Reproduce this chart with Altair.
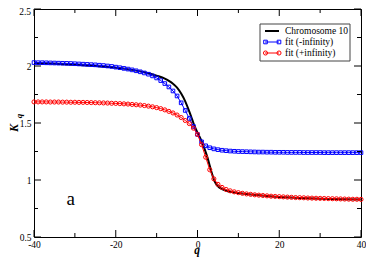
import altair as alt
import pandas as pd

# ---------------- data ----------------
SERIES = ["Chromosome 10", "fit (-infinity)", "fit (+infinity)"]

Q_BLACK = [-40, -35, -30, -25, -20, -16, -13, -10, -8, -7,
           -6, -5, -4, -3, -2, -1.5, -1, -0.5, 0, 0.5,
           1, 1.5, 2, 2.5, 3, 3.5, 4, 4.5, 5, 6,
           7, 8, 10, 12, 15, 20, 25, 30, 35, 40]
K_BLACK = [2.025, 2.020, 2.012, 2.000, 1.985, 1.966, 1.945, 1.915, 1.890, 1.870,
           1.845, 1.810, 1.758, 1.690, 1.600, 1.550, 1.500, 1.455, 1.415, 1.380,
           1.340, 1.295, 1.245, 1.190, 1.125, 1.060, 1.005, 0.968, 0.945, 0.920,
           0.906, 0.897, 0.886, 0.877, 0.866, 0.850, 0.842, 0.836, 0.831, 0.828]

Q_FIT = list(range(-40, 41))
K_BLUE = [2.030, 2.029, 2.029, 2.028, 2.027, 2.026, 2.025, 2.024, 2.023, 2.022,
          2.020, 2.018, 2.016, 2.014, 2.012, 2.010, 2.007, 2.004, 2.000, 1.996,
          1.990, 1.985, 1.979, 1.973, 1.966, 1.958, 1.949, 1.939, 1.928, 1.913,
          1.895, 1.872, 1.846, 1.816, 1.781, 1.737, 1.677, 1.610, 1.540, 1.470,
          1.400, 1.335, 1.300, 1.283, 1.273, 1.266, 1.261, 1.257, 1.254, 1.252,
          1.250, 1.249, 1.248, 1.247, 1.246, 1.245, 1.245, 1.244, 1.244, 1.243,
          1.243, 1.243, 1.242, 1.242, 1.242, 1.242, 1.241, 1.241, 1.241, 1.241,
          1.241, 1.240, 1.240, 1.240, 1.240, 1.240, 1.240, 1.240, 1.240, 1.240, 1.240]
K_RED = [1.685, 1.685, 1.685, 1.685, 1.684, 1.684, 1.684, 1.683, 1.683, 1.682,
         1.682, 1.681, 1.681, 1.680, 1.679, 1.678, 1.677, 1.676, 1.675, 1.673,
         1.672, 1.670, 1.668, 1.666, 1.663, 1.660, 1.657, 1.653, 1.648, 1.642,
         1.635, 1.626, 1.615, 1.602, 1.588, 1.570, 1.548, 1.522, 1.495, 1.455,
         1.400, 1.310, 1.200, 1.090, 1.010, 0.962, 0.935, 0.917, 0.905, 0.896,
         0.889, 0.883, 0.878, 0.874, 0.870, 0.867, 0.864, 0.861, 0.858, 0.856,
         0.854, 0.852, 0.850, 0.848, 0.846, 0.845, 0.844, 0.842, 0.841, 0.840,
         0.839, 0.838, 0.837, 0.836, 0.835, 0.834, 0.833, 0.832, 0.831, 0.831, 0.830]

X_MAJOR = [-40, -20, 0, 20, 40]
X_MINOR = [-30, -10, 10, 30]
Y_MAJOR = [0.5, 1, 1.5, 2, 2.5]
Y_MINOR = [0.75, 1.25, 1.75, 2.25]

# ---------------- layout ----------------
W, H = 327, 228
FONT = "Liberation Serif"
BLUE = "#0000ff"
RED = "#ff0000"

xs = alt.Scale(domain=[-40, 40], nice=False, zero=False)
ys = alt.Scale(domain=[0.5, 2.5], nice=False, zero=False)
xaxis = alt.Axis(values=X_MAJOR, labelExpr="'' + datum.value", ticks=False, domain=False,
                 grid=False, title=None, labelFont=FONT, labelFontSize=9.5, labelPadding=2,
                 labelFlush=False, labelOverlap=False, labelColor="black")
yaxis = alt.Axis(values=[0.5, 1, 1.5, 2], labelExpr="'' + datum.value", ticks=False, domain=False,
                 grid=False, title=None, labelFont=FONT, labelFontSize=9.5, labelPadding=3,
                 labelFlush=False, labelOverlap=False, labelColor="black")


def X(f):
    return alt.X(f, type="quantitative", scale=xs, axis=xaxis)


def Y(f):
    return alt.Y(f, type="quantitative", scale=ys, axis=yaxis)


black_df = pd.DataFrame({"q": Q_BLACK, "K": K_BLACK})
blue_df = pd.DataFrame({"q": Q_FIT, "K": K_BLUE})
red_df = pd.DataFrame({"q": Q_FIT, "K": K_RED})

black = alt.Chart(black_df).mark_line(color="black", strokeWidth=2, interpolate="monotone").encode(
    x=X("q"), y=Y("K"))
blue_line = alt.Chart(blue_df).mark_line(color=BLUE, strokeWidth=1).encode(x=X("q"), y=Y("K"))
blue_pts = alt.Chart(blue_df).mark_point(shape="square", size=13, filled=False, color=BLUE,
                                         strokeWidth=1, opacity=1).encode(x=X("q"), y=Y("K"))
red_line = alt.Chart(red_df).mark_line(color=RED, strokeWidth=1).encode(x=X("q"), y=Y("K"))
red_pts = alt.Chart(red_df).mark_point(shape="circle", size=17, filled=False, color=RED,
                                       strokeWidth=1, opacity=1).encode(x=X("q"), y=Y("K"))

# inward ticks on all four sides
xt_major = pd.DataFrame({"q": X_MAJOR})
xt_minor = pd.DataFrame({"q": X_MINOR})
yt_major = pd.DataFrame({"K": Y_MAJOR})
yt_minor = pd.DataFrame({"K": Y_MINOR})

ticks = []
for df, ln in [(xt_major, 7), (xt_minor, 4)]:
    ticks.append(alt.Chart(df).mark_rule(color="black", strokeWidth=1).encode(
        x=X("q"), y=alt.value(H), y2=alt.value(H - ln)))
    ticks.append(alt.Chart(df).mark_rule(color="black", strokeWidth=1).encode(
        x=X("q"), y=alt.value(0), y2=alt.value(ln)))
for df, ln in [(yt_major, 7), (yt_minor, 4)]:
    ticks.append(alt.Chart(df).mark_rule(color="black", strokeWidth=1).encode(
        y=Y("K"), x=alt.value(0), x2=alt.value(ln)))
    ticks.append(alt.Chart(df).mark_rule(color="black", strokeWidth=1).encode(
        y=Y("K"), x=alt.value(W), x2=alt.value(W - ln)))

one = pd.DataFrame({"z": [0]})

top_label = alt.Chart(one).mark_text(font=FONT, fontSize=9.5, align="right", baseline="middle",
                                     dy=3, color="black").encode(
    x=alt.value(-3), y=Y("K_top:Q"), text=alt.value("2.5")).transform_calculate(K_top="2.5")

a_label = alt.Chart(one).mark_text(font=FONT, fontSize=19, align="center", baseline="alphabetic",
                                   color="black").encode(
    x=X("qa:Q"), y=Y("Ka:Q"), text=alt.value("a")).transform_calculate(qa="-31", Ka="0.78")

# axis titles
x_title = alt.Chart(one).mark_text(font=FONT, fontSize=11.5, fontStyle="italic", fontWeight="bold",
                                   align="center", baseline="alphabetic", color="black").encode(
    x=alt.value(163), y=alt.value(245), text=alt.value("q"))
y_title_K = alt.Chart(one).mark_text(font=FONT, fontSize=12, fontStyle="italic", fontWeight="bold",
                                     align="center", baseline="middle", angle=270, color="black").encode(
    x=alt.value(-20), y=alt.value(119), text=alt.value("K"))
y_title_q = alt.Chart(one).mark_text(font=FONT, fontSize=9, fontStyle="italic", fontWeight="bold",
                                     align="center", baseline="middle", angle=270, color="black").encode(
    x=alt.value(-15.5), y=alt.value(107), text=alt.value("q"))

# legend (manual, top right)
LX0, LY0 = 226, 15
legend = [alt.Chart(one).mark_rect(fill="white", stroke="#444444", strokeWidth=1).encode(
    x=alt.value(LX0), x2=alt.value(LX0 + 90), y=alt.value(LY0), y2=alt.value(LY0 + 37))]
styles = [("black", None, 2), (BLUE, "square", 1), (RED, "circle", 1)]
for i, (name, (col, shp, sw)) in enumerate(zip(SERIES, styles)):
    yy = LY0 + 7 + i * 11
    legend.append(alt.Chart(one).mark_rule(color=col, strokeWidth=sw).encode(
        x=alt.value(LX0 + 5), x2=alt.value(LX0 + 19), y=alt.value(yy)))
    if shp:
        for xx in (LX0 + 5.5, LX0 + 19):
            legend.append(alt.Chart(one).mark_point(shape=shp, size=13 if shp == "square" else 17,
                                                    filled=False, color=col, strokeWidth=1,
                                                    opacity=1).encode(
                x=alt.value(xx), y=alt.value(yy)))
    legend.append(alt.Chart(one).mark_text(font=FONT, fontSize=9.5, align="left", baseline="middle",
                                           color="black").encode(
        x=alt.value(LX0 + 25), y=alt.value(yy), text=alt.value(name)))

chart = alt.layer(
    black, blue_line, blue_pts, red_line, red_pts, *ticks, top_label, a_label,
    x_title, y_title_K, y_title_q, *legend
).properties(
    width=W, height=H,
    autosize=alt.AutoSizeParams(type="none"),
    padding={"left": 26, "top": 1, "right": 5, "bottom": 24},
    background="white",
).configure_view(stroke="black", strokeWidth=1)

chart.save("out.html", embed_options={"renderer": "svg", "actions": False})
